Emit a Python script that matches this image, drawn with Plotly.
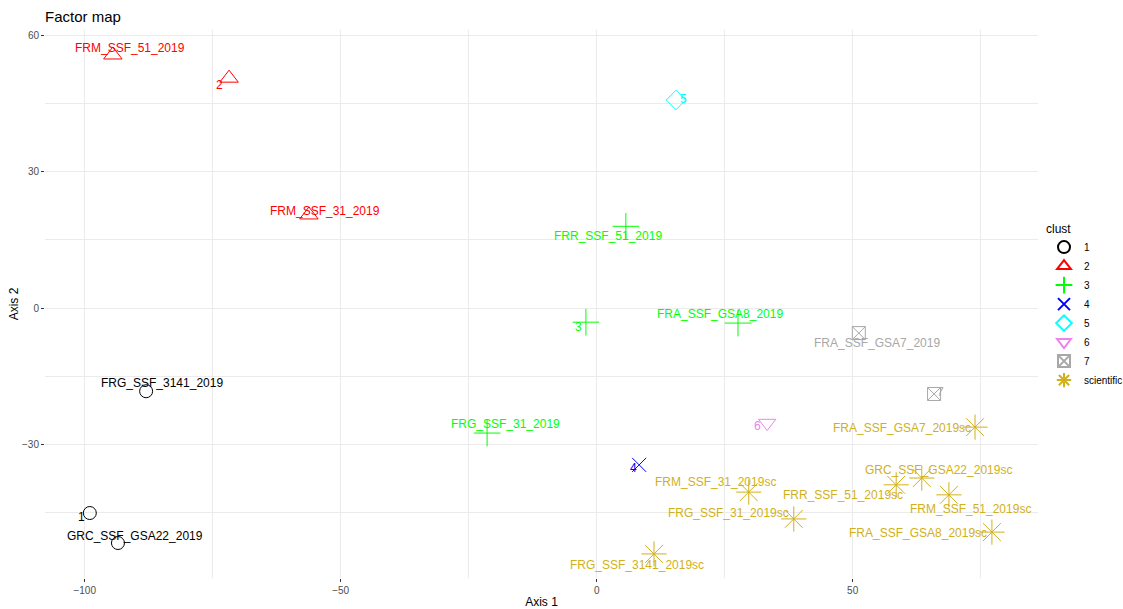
import plotly.graph_objects as go

# ---- data ----
ind_names = [
    "FRG_SSF_3141_2019", "GRC_SSF_GSA22_2019",
    "FRM_SSF_51_2019", "FRM_SSF_31_2019",
    "FRR_SSF_51_2019", "FRA_SSF_GSA8_2019", "FRG_SSF_31_2019",
    "FRA_SSF_GSA7_2019",
    "FRA_SSF_GSA7_2019sc", "GRC_SSF_GSA22_2019sc", "FRR_SSF_51_2019sc",
    "FRM_SSF_51_2019sc", "FRA_SSF_GSA8_2019sc", "FRM_SSF_31_2019sc",
    "FRG_SSF_31_2019sc", "FRG_SSF_3141_2019sc",
]
ind_x = [-88.0, -93.5, -94.5, -56.2, 5.7, 27.6, -21.4, 51.2,
         73.9, 63.5, 58.5, 68.8, 77.2, 29.7, 38.5, 11.2]
ind_y = [-18.3, -51.7, 55.7, 20.5, 18.0, -3.3, -27.5, -5.5,
         -26.2, -37.4, -38.9, -41.1, -49.3, -40.5, -46.4, -54.1]
ind_clust = ["1", "1", "2", "2", "3", "3", "3", "7",
             "scientific", "scientific", "scientific", "scientific",
             "scientific", "scientific", "scientific", "scientific"]

center_names = ["1", "2", "3", "4", "5", "6", "7"]
center_x = [-99.0, -71.8, -2.1, 8.3, 15.5, 33.3, 65.9]
center_y = [-45.1, 50.6, -3.1, -34.5, 45.8, -25.3, -18.9]

clusters = ["1", "2", "3", "4", "5", "6", "7", "scientific"]

# ---- styles ----
colors = {"1": "#000000", "2": "#FF0000", "3": "#00FF00", "4": "#0000FF",
          "5": "#00FFFF", "6": "#EE82EE", "7": "#A8A8A8", "scientific": "#D2B019"}
symbols = {"1": "circle-open", "2": "triangle-up-open", "3": "cross-thin-open",
           "4": "x-thin-open", "5": "diamond-open", "6": "triangle-down-open",
           "7": "square-x-open", "scientific": "asterisk-open"}
sizes = {"1": 13, "2": 16, "3": 19, "4": 14, "5": 15, "6": 15, "7": 13,
         "scientific": 21}
# label offsets (pixels) relative to the point
ind_shift = [(16, 8), (17, 7), (17, 7), (16, 4), (-18, -10), (-18, 9), (18, 9),
             (18, -10), (-73, -1), (17, 8), (-53, -10), (22, -14), (-74, -1),
             (-33, 10), (-65, 6), (-17, -11)]
center_shift = [(-8, -4), (-10, -7), (-7, -5), (-6, -3), (7, 1), (-10, -3), (6, 2)]

fig = go.Figure()
for c in clusters:
    xs = [x for x, k in zip(ind_x, ind_clust) if k == c]
    ys = [y for y, k in zip(ind_y, ind_clust) if k == c]
    if c in center_names:
        i = center_names.index(c)
        xs.append(center_x[i])
        ys.append(center_y[i])
    fig.add_trace(go.Scatter(
        x=xs, y=ys, mode="markers", name=c,
        marker=dict(symbol=symbols[c], size=sizes[c], color=colors[c],
                    line=dict(width=1, color=colors[c])),
    ))

annos = []
for n, x, y, k, (dx, dy) in zip(ind_names, ind_x, ind_y, ind_clust, ind_shift):
    annos.append(dict(x=x, y=y, text=n, showarrow=False, xshift=dx, yshift=dy,
                      font=dict(size=12, color=colors[k],
                                family="Liberation Sans, Arial, sans-serif")))
for n, x, y, (dx, dy) in zip(center_names, center_x, center_y, center_shift):
    annos.append(dict(x=x, y=y, text=n, showarrow=False, xshift=dx, yshift=dy,
                      font=dict(size=12, color=colors[n],
                                family="Liberation Sans, Arial, sans-serif")))

grid = "#EBEBEB"
fig.update_layout(
    width=1123, height=609,
    margin=dict(l=45, r=85, t=30, b=31, autoexpand=False),
    paper_bgcolor="white", plot_bgcolor="white",
    font=dict(family="Liberation Sans, Arial, sans-serif", color="#000000"),
    title=dict(text="Factor map", x=45 / 1123, xanchor="left",
               y=1 - 17 / 609, yanchor="middle",
               font=dict(size=15, color="#000000")),
    annotations=annos,
    legend=dict(title=dict(text="clust", font=dict(size=12)),
                xref="container", yref="container",
                x=1044 / 1123, xanchor="left", y=1 - 217 / 609, yanchor="top",
                font=dict(size=10), tracegroupgap=0, itemsizing="constant",
                itemwidth=30),
    xaxis=dict(range=[-107.75, 86.2], dtick=50, tick0=0, showgrid=True,
               automargin=False,
               gridcolor=grid, gridwidth=1, zeroline=False, showline=False,
               ticks="outside", ticklen=3, tickcolor="#333333",
               tickfont=dict(size=10, color="#4D4D4D"),
               minor=dict(dtick=25, showgrid=True, gridcolor=grid, gridwidth=1),
               title=dict(text="Axis 1", font=dict(size=12), standoff=4)),
    yaxis=dict(range=[-59.4, 61.2], dtick=30, tick0=0, showgrid=True,
               automargin=False,
               gridcolor=grid, gridwidth=1, zeroline=False, showline=False,
               ticks="outside", ticklen=3, tickcolor="#333333",
               tickfont=dict(size=10, color="#4D4D4D"),
               minor=dict(dtick=15, showgrid=True, gridcolor=grid, gridwidth=1),
               title=dict(text="Axis 2", font=dict(size=12), standoff=0)),
)

fig.write_html("out.html",
               config={"displayModeBar": False},
               post_script="document.body.style.margin='0';"
                           "document.body.style.overflow='hidden';")
